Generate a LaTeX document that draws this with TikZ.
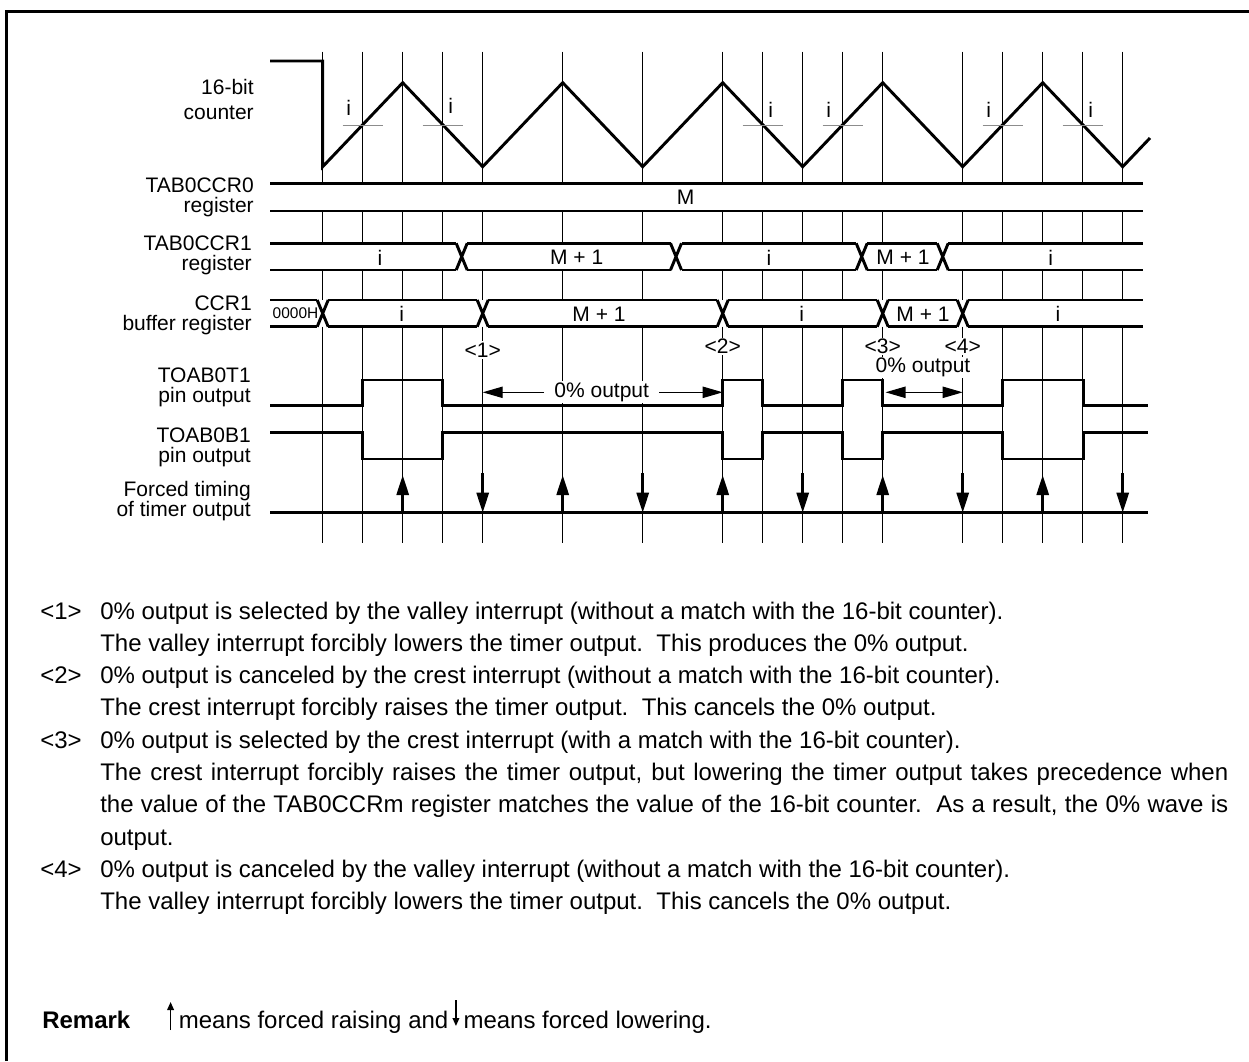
\documentclass[tikz,border=0pt]{standalone}
\usepackage{fontspec}
\setmainfont{Liberation Sans}
\usetikzlibrary{arrows.meta,positioning}
\tikzset{
  sig/.style={line width=2.2pt,line join=miter},
  gridline/.style={line width=0.6pt},
  ilevel/.style={line width=0.8pt,draw=black!45},
  lbl/.style={anchor=base east,inner sep=0pt,font=\fontsize{15.75}{18}\selectfont},
  val/.style={inner sep=0pt,font=\fontsize{15.75}{18}\selectfont},
  tinyval/.style={inner sep=0pt,font=\fontsize{11.6}{14}\selectfont},
  bodytxt/.style={anchor=base west,inner sep=0pt,font=\fontsize{18}{22}\selectfont},
  forcearrow/.style={line width=2.2pt,-{Triangle[length=15pt,width=9pt]}},
  spanarrow/.style={line width=0.8pt,-{Triangle[length=15pt,width=8.5pt]}},
  spanboth/.style={line width=0.8pt,{Triangle[length=15pt,width=8.5pt]}-{Triangle[length=15pt,width=8.5pt]}},
  tinyarrow/.style={line width=1.1pt,-{Triangle[length=6pt,width=5pt]}},
}

\begin{document}
\begin{tikzpicture}[x=0.75pt,y=-0.75pt]
    \useasboundingbox (0,0) rectangle (1249,1061);
    \draw[line width=2.2pt] (6.5,1061) -- (6.5,11.3) -- (1249,11.3);

    % signal names
    \node[lbl] (cntA) at (254,94) {16-bit};
    \node[lbl] (cntB) at (254,119) {counter};
    \node[lbl] (ccr0A) at (254,192.7) {TAB0CCR0};
    \node[lbl] (ccr0B) at (254,212.3) {register};
    \node[lbl] (ccr1A) at (252,250.7) {TAB0CCR1};
    \node[lbl] (ccr1B) at (252,270) {register};
    \node[lbl] (bufA) at (252,310.7) {CCR1};
    \node[lbl] (bufB) at (252,330) {buffer register};
    \node[lbl] (toA) at (251,382.3) {TOAB0T1};
    \node[lbl] (toB) at (251,402.7) {pin output};
    \node[lbl] (tbA) at (251,442.3) {TOAB0B1};
    \node[lbl] (tbB) at (251,462.7) {pin output};
    \node[lbl] (ftA) at (251,496) {Forced timing};
    \node[lbl] (ftB) at (251,516) {of timer output};

    % timing grid
    \foreach \gx in {322.7,362.7,402.7,442.7,482.7,562.7,642.7,722.7,762.7,802.7,842.7,882.7,962.7,1002.7,1042.7,1082.7,1122.7}
      \draw[gridline] (\gx,51.7) -- (\gx,183.7) (\gx,211) -- (\gx,243.3) (\gx,270) -- (\gx,300) (\gx,326.7) -- (\gx,543);

    % counter
    \draw[sig] (270,61) -- (322.7,61) -- (322.7,166.7) -- (402.7,82.7) -- (482.7,166.7) -- (562.7,82.7)
      -- (642.7,166.7) -- (722.7,82.7) -- (802.7,166.7) -- (882.7,82.7) -- (962.7,166.7) -- (1042.7,82.7)
      -- (1122.7,166.7) -- (1150,138);
    \foreach \cx in {362.7,442.7,762.7,842.7,1002.7,1082.7}
      \draw[ilevel] (\cx-20,125.5) -- (\cx+20,125.5);
    \node[val] (iA) at (348.7,108) {i};
    \node[val] (iB) at (450.7,106) {i};
    \node[val] (iC) at (770.7,110) {i};
    \node[val] (iD) at (828.7,110) {i};
    \node[val] (iE) at (988.7,110) {i};
    \node[val] (iF) at (1090.7,110) {i};

    % TAB0CCR0
    \draw[sig] (270,183.7) -- (1143,183.7) (270,211) -- (1143,211);
    \node[val] (mval) at (685.7,197.3) {M};

    % TAB0CCR1
    \draw[sig] (270,243.3) -- (456.2,243.3) (467.2,243.3) -- (670.5,243.3) (681.5,243.3) -- (856.2,243.3)
      (867.2,243.3) -- (937.2,243.3) (948.2,243.3) -- (1143,243.3);
    \draw[sig] (270,270) -- (456.2,270) (467.2,270) -- (670.5,270) (681.5,270) -- (856.2,270)
      (867.2,270) -- (937.2,270) (948.2,270) -- (1143,270);
    \foreach \tx in {461.7,676,861.7,942.7}
      \draw[sig] (\tx-5.5,243.3) -- (\tx+5.5,270) (\tx-5.5,270) -- (\tx+5.5,243.3);
    \node[val] (r1a) at (380,257.5) {i};
    \node[val] (r1b) at (576.7,257.5) {M + 1};
    \node[val] (r1c) at (769,257.5) {i};
    \node[val] (r1d) at (903,257.5) {M + 1};
    \node[val] (r1e) at (1050.7,257.5) {i};

    % CCR1 buffer
    \draw[sig] (270,300) -- (317.2,300) (328.2,300) -- (477.2,300) (488.2,300) -- (717.2,300)
      (728.2,300) -- (877.2,300) (888.2,300) -- (957.2,300) (968.2,300) -- (1143,300);
    \draw[sig] (270,326.7) -- (317.2,326.7) (328.2,326.7) -- (477.2,326.7) (488.2,326.7) -- (717.2,326.7)
      (728.2,326.7) -- (877.2,326.7) (888.2,326.7) -- (957.2,326.7) (968.2,326.7) -- (1143,326.7);
    \foreach \tx in {322.7,482.7,722.7,882.7,962.7}
      \draw[sig] (\tx-5.5,300) -- (\tx+5.5,326.7) (\tx-5.5,326.7) -- (\tx+5.5,300);
    \node[tinyval] (b0) at (295.5,313.3) {0000H};
    \node[val] (b1) at (401.7,314) {i};
    \node[val] (b2) at (599,314) {M + 1};
    \node[val] (b3) at (801.7,314) {i};
    \node[val] (b4) at (923,314) {M + 1};
    \node[val] (b5) at (1058,314) {i};

    % event marks
    \node[val,fill=white,inner ysep=1pt] (ev1) at (482.7,350) {<1>};
    \node[val,fill=white,inner ysep=1pt] (ev2) at (722.7,346.5) {<2>};
    \node[val,fill=white,inner ysep=1pt] (ev3) at (882.7,346.5) {<3>};
    \node[val,fill=white,inner ysep=1pt] (ev4) at (962.7,346.5) {<4>};

    % 0% output spans
    \coordinate (zs1) at (482.7,392.3);
    \coordinate (ze1) at (722.7,392.3);
    \node[val,fill=white,inner xsep=7.5pt,inner ysep=1pt] (zero1) at (601.7,392.3) {0\% output};
    \draw[spanarrow] (zero1) -- (zs1);
    \draw[spanarrow] (zero1) -- (ze1);
    \node[val,fill=white,inner ysep=1pt] (zero2) at (923,367.5) {0\% output};
    \coordinate (zs2) at (885.5,392.3);
    \coordinate (ze2) at (962.7,392.3);
    \draw[spanboth] (zs2) -- (ze2);

    % TOAB0T1 / TOAB0B1
    \draw[sig] (270,405.7) -- (362.7,405.7) -- (362.7,380) -- (442.7,380) -- (442.7,405.7) -- (722.7,405.7)
      -- (722.7,380) -- (762.7,380) -- (762.7,405.7) -- (842.7,405.7) -- (842.7,380) -- (882.7,380)
      -- (882.7,405.7) -- (1002.7,405.7) -- (1002.7,380) -- (1084,380) -- (1084,405.7) -- (1148,405.7);
    \draw[sig] (270,432.3) -- (362.7,432.3) -- (362.7,459) -- (442.7,459) -- (442.7,432.3) -- (722.7,432.3)
      -- (722.7,459) -- (762.7,459) -- (762.7,432.3) -- (842.7,432.3) -- (842.7,459) -- (882.7,459)
      -- (882.7,432.3) -- (1002.7,432.3) -- (1002.7,459) -- (1084,459) -- (1084,432.3) -- (1148,432.3);

    % forced timing
    \draw[sig] (270,512.7) -- (1148,512.7);
    \foreach \ux in {402.7,562.7,722.7,882.7,1042.7}
      \draw[forcearrow] (\ux,512.7) -- (\ux,475);
    \foreach \dx in {482.7,642.7,802.7,962.7,1122.7}
      \draw[forcearrow] (\dx,473) -- (\dx,512.7);

    % notes
    \node[bodytxt] (n1) at (40,619) {<1>};
    \node[bodytxt] (t1a) at (100,619) {0\% output is selected by the valley interrupt (without a match with the 16-bit counter).};
    \node[bodytxt] (t1b) at (100,651.3) {The valley interrupt forcibly lowers the timer output.\ \ This produces the 0\% output.};
    \node[bodytxt] (n2) at (40,683.6) {<2>};
    \node[bodytxt] (t2a) at (100,683.6) {0\% output is canceled by the crest interrupt (without a match with the 16-bit counter).};
    \node[bodytxt] (t2b) at (100,715.9) {The crest interrupt forcibly raises the timer output.\ \ This cancels the 0\% output.};
    \node[bodytxt] (n3) at (40,748.2) {<3>};
    \node[bodytxt] (t3a) at (100,748.2) {0\% output is selected by the crest interrupt (with a match with the 16-bit counter).};
    \node[bodytxt] (t3b) at (100,780.5) {\makebox[846pt][s]{The crest interrupt forcibly raises the timer output, but lowering the timer output takes precedence when}};
    \node[bodytxt] (t3c) at (100,812.8) {\makebox[846pt][s]{the value of the TAB0CCRm register matches the value of the 16-bit counter.\ \ As a result, the 0\% wave is}};
    \node[bodytxt] (t3d) at (100,845.1) {output.};
    \node[bodytxt] (n4) at (40,877.4) {<4>};
    \node[bodytxt] (t4a) at (100,877.4) {0\% output is canceled by the valley interrupt (without a match with the 16-bit counter).};
    \node[bodytxt] (t4b) at (100,909.7) {The valley interrupt forcibly lowers the timer output.\ \ This cancels the 0\% output.};

    % remark
    \node[bodytxt] (rmk) at (42,1028) {\bfseries Remark};
    \coordinate[right=30pt of rmk.base east] (rubase);
    \draw[tinyarrow] ([yshift=-1.5pt]rubase) -- ([yshift=19.5pt]rubase);
    \node[bodytxt,right=6pt of rubase,anchor=base west] (rtx1) {means forced raising and};
    \coordinate[right=5.5pt of rtx1.base east] (rdbase);
    \draw[tinyarrow] ([yshift=21pt]rdbase) -- ([yshift=1.5pt]rdbase);
    \node[bodytxt,right=5.5pt of rdbase,anchor=base west] (rtx2) {means forced lowering.};
  \end{tikzpicture}
\end{document}
